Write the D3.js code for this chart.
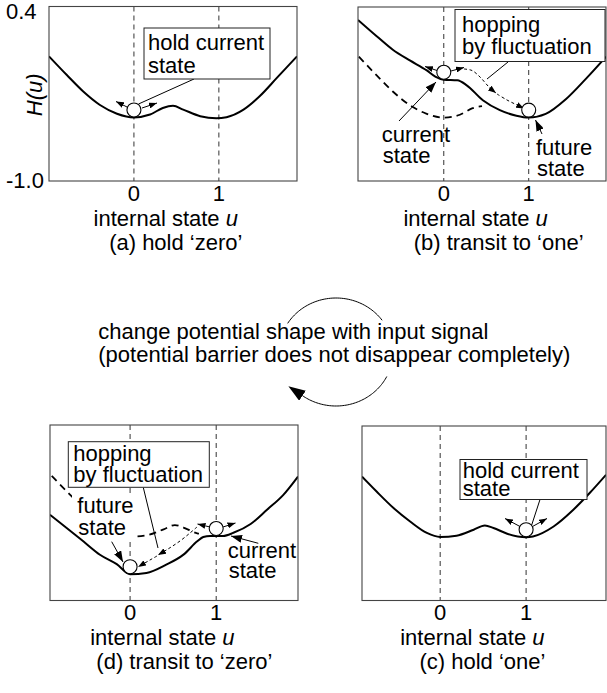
<!DOCTYPE html>
<html><head><meta charset="utf-8">
<script src="https://cdn.jsdelivr.net/npm/d3@7"></script>
<style>
body{margin:0;background:#fff}
svg{display:block}
text{font-family:"Liberation Sans",Arial,Helvetica,sans-serif;font-size:22px;fill:#000}
</style>
</head><body>
<svg id="c" width="607" height="693"></svg>
<script>
// ---------------- data ----------------
const uHoldZero = [-1.0,-0.79,-0.6,-0.4,-0.2,0,0.19,0.34,0.46,0.58,0.78,0.97,1.09,1.29,1.48,1.68,1.92];
const hHoldZero = [0.0,-0.15,-0.28,-0.39,-0.46,-0.49,-0.467,-0.414,-0.396,-0.427,-0.48,-0.497,-0.488,-0.427,-0.32,-0.175,0.0];

const uTransitOne = [-1.01,-0.79,-0.6,-0.4,-0.2,-0.1,0,0.16,0.27,0.46,0.66,0.855,1.0,1.2,1.44,1.67,1.91];
const hTransitOne = [0.296,0.165,0.056,-0.03,-0.11,-0.16,-0.185,-0.19,-0.23,-0.35,-0.43,-0.475,-0.49,-0.46,-0.34,-0.18,0.0];

const uTransitZero = [-0.93,-0.74,-0.54,-0.35,-0.155,0,0.19,0.42,0.62,0.78,0.85,0.93,1.08,1.2,1.4,1.59,1.78,1.95];
const hTransitZero = [-0.316,-0.42,-0.53,-0.635,-0.71,-0.79,-0.78,-0.714,-0.634,-0.528,-0.493,-0.485,-0.485,-0.46,-0.39,-0.276,-0.157,-0.011];

const uHoldOne = [-0.91,-0.74,-0.54,-0.35,-0.155,0,0.19,0.39,0.52,0.62,0.78,1.0,1.08,1.32,1.55,1.74,1.93];
const hHoldOne = [-0.006,-0.126,-0.26,-0.366,-0.458,-0.49,-0.48,-0.432,-0.398,-0.418,-0.464,-0.492,-0.486,-0.406,-0.272,-0.138,0.008];

const xTickValues = [0, 1];
const xTickLabels = ["0", "1"];
const yTickValues = [0.4, -1.0];
const yTickLabels = ["0.4", "-1.0"];
const yDomain = [-1.0, 0.4];
const captions = ["(a) hold \u2018zero\u2019", "(b) transit to \u2018one\u2019", "(d) transit to \u2018zero\u2019", "(c) hold \u2018one\u2019"];
const middleText = ["change potential shape with input signal", "(potential barrier does not disappear completely)"];

// ---------------- layout ----------------
const svg = d3.select('#c');
const defs = svg.append('defs');
function marker(id, len, wid, atBase){
  defs.append('marker').attr('id', id).attr('markerUnits', 'userSpaceOnUse')
    .attr('viewBox', `0 0 ${len} ${wid}`).attr('refX', atBase ? 0 : len).attr('refY', wid/2)
    .attr('markerWidth', len).attr('markerHeight', wid).attr('orient', 'auto')
    .append('path').attr('d', `M0,0L${len},${wid/2}L0,${wid}Z`).attr('fill', '#000');
}
marker('hs', 8, 6); marker('hm', 11, 8); marker('hl', 17, 12, true);

function pts(us, hs){ return us.map((u, i) => [u, hs[i]]); }
function hAt(us, hs, u){
  for (let i = 0; i < us.length - 1; i++) {
    if (u >= us[i] && u <= us[i+1]) { const t = (u - us[i]) / (us[i+1] - us[i]); return hs[i] + t * (hs[i+1] - hs[i]); }
  }
  return hs[hs.length-1];
}

const panels = [
  {frame:[49,6.5,297,181], dom:[-1.0,1.92], us:uHoldZero, hs:hHoldZero, cap:captions[0], yAxis:true,
   balls:[0], arrows:[[127,107,116,101.5],[142,108,157,103]], callouts:[[[138.5,104],[194,79]]],
   box:{x:144,y:28,w:126,h:51,tx:148,lines:[["hold current",50],["state",72.5]]}},
  {frame:[358,7,606,181], dom:[-1.01,1.91], us:uTransitOne, hs:hTransitOne, cap:captions[1],
   prev:{us:uHoldZero, hs:hHoldZero, uMax:0.45},
   balls:[0,1], arrows:[[437,70.5,425,66.5],[451,71,464,67.5]],
   hops:[[[464,69],[472,70.5],[480,77],[489,87],[496,93]], [[497,94],[507,100],[517,105],[524,108.5]]],
   callouts:[[[508,62],[487,79]]],
   box:{x:455,y:9.5,w:150,h:52,tx:462,lines:[["hopping",32],["by fluctuation",53.5]]},
   labels:[{tx:381.7,lines:[["current",141.7],["state",163.3]],arrow:[399,121,436,82]},
           {tx:536,lines:[["future",155],["state",175.5]],arrow:[542,134,535.5,120]}]},
  {frame:[50,425,298,600.5], dom:[-0.93,1.95], us:uTransitZero, hs:hTransitZero, cap:captions[2],
   prev:{us:uHoldOne, hs:hHoldOne, uMax:0.8},
   mask:[72,494,62,47],
   balls:[0,1], arrows:[[210,527,197.5,524],[223,527,235.5,523]],
   hops:[[[197,527],[190,533],[180,541],[168,549],[158,555]], [[157,556],[150,560],[138,567]]],
   callouts:[[[143.3,487.5],[158,548]]],
   box:{x:68.3,y:441.7,w:141,h:45.6,tx:73.3,lines:[["hopping",461],["by fluctuation",482]]},
   labels:[{tx:77.3,lines:[["future",513.3],["state",535]],arrow:[111.7,541.7,123,562]},
           {tx:227.7,lines:[["current",558.3],["state",578.3]],arrow:[258.3,543.3,231,536]}]},
  {frame:[362,426,606,600.5], dom:[-0.91,1.93], us:uHoldOne, hs:hHoldOne, cap:captions[3],
   balls:[1], arrows:[[520,526.5,505,518.5],[532.5,526.5,547,518.5]], callouts:[[[531.7,525],[540,499.5]]],
   box:{x:460,y:459.5,w:127,h:40,tx:462.7,lines:[["hold current",477.5],["state",496]]}}
];

panels.forEach((p, pi) => {
  const [fx0, fy0, fx1, fy1] = p.frame;
  const x = d3.scaleLinear().domain(p.dom).range([fx0, fx1]);
  const y = d3.scaleLinear().domain(yDomain).range([fy1, fy0]);
  const g = svg.append('g');
  const cid = 'clip' + pi;
  defs.append('clipPath').attr('id', cid).append('rect')
    .attr('x', fx0).attr('y', fy0).attr('width', fx1 - fx0).attr('height', fy1 - fy0);

  // dashed guide lines at u = 0, 1
  g.selectAll('line.guide').data(xTickValues).join('line')
    .attr('x1', d => x(d)).attr('x2', d => x(d)).attr('y1', fy0).attr('y2', fy1)
    .attr('stroke', '#333').attr('stroke-width', 1).attr('stroke-dasharray', '5,4');

  const line = d3.line().x(d => x(d[0])).y(d => y(d[1])).curve(d3.curveMonotoneX);

  // previous potential (dashed)
  if (p.prev) {
    const pp = pts(p.prev.us, p.prev.hs).filter(d => d[0] <= p.prev.uMax + 1e-9);
    pp.push([p.prev.uMax, hAt(p.prev.us, p.prev.hs, p.prev.uMax)]);
    pp.sort((a, b) => a[0] - b[0]);
    g.append('path').attr('d', line(pp)).attr('clip-path', `url(#${cid})`)
      .attr('fill', 'none').attr('stroke', '#000').attr('stroke-width', 1.8).attr('stroke-dasharray', '7,5');
  }
  if (p.mask) {
    g.append('rect').attr('x', p.mask[0]).attr('y', p.mask[1]).attr('width', p.mask[2]).attr('height', p.mask[3]).attr('fill', '#fff');
  }

  // current potential (solid)
  g.append('path').attr('d', line(pts(p.us, p.hs))).attr('clip-path', `url(#${cid})`)
    .attr('fill', 'none').attr('stroke', '#000').attr('stroke-width', 2);

  // frame
  g.append('rect').attr('x', fx0).attr('y', fy0).attr('width', fx1 - fx0).attr('height', fy1 - fy0)
    .attr('fill', 'none').attr('stroke', '#444').attr('stroke-width', 1.1);

  // hopping paths
  (p.hops || []).forEach(h => {
    g.append('path').attr('d', d3.line().curve(d3.curveCatmullRom)(h))
      .attr('fill', 'none').attr('stroke', '#000').attr('stroke-width', 1).attr('stroke-dasharray', '3,2.5')
      .attr('marker-end', 'url(#hs)');
  });

  // balls sitting on the potential
  const r = 7;
  p.balls.forEach(u => {
    g.append('circle').attr('cx', x(u)).attr('cy', y(hAt(p.us, p.hs, u)) - r - 0.5).attr('r', r)
      .attr('fill', '#fff').attr('stroke', '#000').attr('stroke-width', 1.1);
  });

  // fluctuation arrows
  p.arrows.forEach(a => {
    g.append('line').attr('x1', a[0]).attr('y1', a[1]).attr('x2', a[2]).attr('y2', a[3])
      .attr('stroke', '#000').attr('stroke-width', 1).attr('marker-end', 'url(#hs)');
  });

  // callout lines
  p.callouts.forEach(c => {
    g.append('line').attr('x1', c[0][0]).attr('y1', c[0][1]).attr('x2', c[1][0]).attr('y2', c[1][1])
      .attr('stroke', '#000').attr('stroke-width', 1);
  });

  // box
  const b = p.box;
  g.append('rect').attr('x', b.x).attr('y', b.y).attr('width', b.w).attr('height', b.h)
    .attr('fill', '#fff').attr('stroke', '#222').attr('stroke-width', 1);
  b.lines.forEach(l => g.append('text').attr('x', b.tx).attr('y', l[1]).text(l[0]));

  // labels with arrows
  (p.labels || []).forEach(L => {
    L.lines.forEach((l, i) => g.append('text').attr('x', L.tx + (i ? 1 : 0)).attr('y', l[1]).text(l[0]));
    g.append('line').attr('x1', L.arrow[0]).attr('y1', L.arrow[1]).attr('x2', L.arrow[2]).attr('y2', L.arrow[3])
      .attr('stroke', '#000').attr('stroke-width', 1).attr('marker-end', 'url(#hm)');
  });

  // x tick labels
  g.selectAll('text.xt').data(xTickValues).join('text').attr('class', 'xt')
    .attr('x', d => x(d)).attr('y', fy1 + 19.5).attr('text-anchor', 'middle')
    .text((d, i) => xTickLabels[i]);

  // x axis title
  const midX = x(0) + (x(1) - x(0)) * 0.375;
  const t = g.append('text').attr('x', midX).attr('y', fy1 + 44.5).attr('text-anchor', 'middle');
  t.append('tspan').text('internal state ');
  t.append('tspan').attr('font-style', 'italic').text('u');
  // caption
  g.append('text').attr('x', midX + 10 + (pi === 1 ? 13 : pi === 2 ? 12 : 0)).attr('y', fy1 + 68.5)
    .attr('text-anchor', 'middle').text(p.cap);

  // y axis
  if (p.yAxis) {
    g.selectAll('text.yt').data(yTickValues).join('text').attr('class', 'yt')
      .attr('x', 6).attr('y', d => y(d) + (d > 0 ? 12 : 7)).text((d, i) => yTickLabels[i]);
    g.append('text').attr('transform', `translate(42,${(fy0 + fy1) / 2 + 1}) rotate(-90)`)
      .attr('text-anchor', 'middle').attr('font-style', 'italic').text('H(u)');
  }
});

// ---------------- middle annotation ----------------
const mid = svg.append('g');
middleText.forEach((s, i) => mid.append('text').attr('x', 98.3).attr('y', 339 + i * 22.5).text(s));
function ell(cx, cy, rx, ry, t0, t1, n){
  return d3.range(n + 1).map(i => { const t = (t0 + (t1 - t0) * i / n) * Math.PI / 180; return [cx + rx * Math.cos(t), cy + ry * Math.sin(t)]; });
}
const arcLine = d3.line();
mid.append('path').attr('d', arcLine(ell(336, 352, 57, 54, -148, -36, 60)))
  .attr('fill', 'none').attr('stroke', '#000').attr('stroke-width', 1);
mid.append('path').attr('d', arcLine(ell(336, 352, 57, 54, 27, 126, 60)))
  .attr('fill', 'none').attr('stroke', '#000').attr('stroke-width', 1).attr('marker-end', 'url(#hl)');
</script>
</body></html>
